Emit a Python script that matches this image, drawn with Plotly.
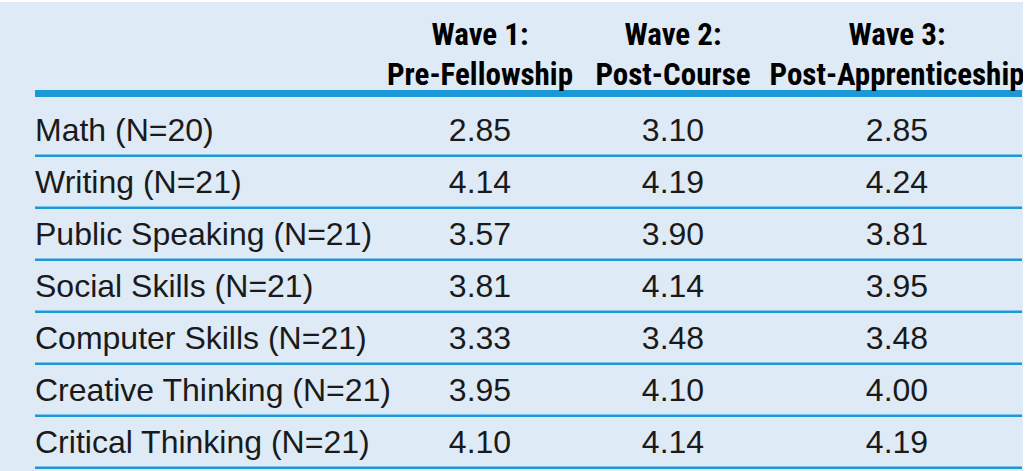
import plotly.graph_objects as go

# ---- data ----
skills = ["Math (N=20)", "Writing (N=21)", "Public Speaking (N=21)", "Social Skills (N=21)",
          "Computer Skills (N=21)", "Creative Thinking (N=21)", "Critical Thinking (N=21)"]
wave_headers = ["Wave 1:<br>Pre-Fellowship", "Wave 2:<br>Post-Course", "Wave 3:<br>Post-Apprenticeship"]
wave1 = [2.85, 4.14, 3.57, 3.81, 3.33, 3.95, 4.10]
wave2 = [3.10, 4.19, 3.90, 4.14, 3.48, 4.10, 4.14]
wave3 = [2.85, 4.24, 3.81, 3.95, 3.48, 4.00, 4.19]

# ---- layout constants (pixel-like x units, row-index y units) ----
LABEL_X = 35
COL_X = [480, 673, 897]
LINE_X = [35, 1022]
HEADER_Y = -1.45
HEADER_LINE_Y = -0.76
ROW_LINE_OFFSET = 0.437
BG = "#deeaf6"
LINE_COLOR = "#1b99d7"
TEXT_COLOR = "#1a1a1a"
BODY_FONT = "Liberation Sans, Arial, sans-serif"
HEAD_FONT = "Roboto Condensed, DejaVu Sans Condensed, Liberation Sans, sans-serif"

rows = list(range(len(skills)))
fig = go.Figure()

# horizontal rules
fig.add_trace(go.Scatter(x=LINE_X, y=[HEADER_LINE_Y] * 2, mode="lines",
                         line=dict(color=LINE_COLOR, width=7), hoverinfo="skip"))
for r in rows:
    fig.add_trace(go.Scatter(x=LINE_X, y=[r + ROW_LINE_OFFSET] * 2, mode="lines",
                             line=dict(color=LINE_COLOR, width=2.5), hoverinfo="skip"))

# row labels
fig.add_trace(go.Scatter(x=[LABEL_X] * len(skills), y=rows, mode="text", text=skills,
                         textposition="middle right",
                         textfont=dict(family=BODY_FONT, size=32, color=TEXT_COLOR),
                         hoverinfo="skip"))

# values
for cx, vals in zip(COL_X, [wave1, wave2, wave3]):
    fig.add_trace(go.Scatter(x=[cx] * len(vals), y=rows, mode="text",
                             text=[f"{v:.2f}" for v in vals],
                             textposition="middle center",
                             textfont=dict(family=BODY_FONT, size=32, color=TEXT_COLOR),
                             hoverinfo="skip"))

# headers
fig.add_trace(go.Scatter(x=COL_X, y=[HEADER_Y] * len(COL_X), mode="text", text=wave_headers,
                         textposition="middle center",
                         textfont=dict(family=HEAD_FONT, size=31, color="#000000", weight="bold"),
                         hoverinfo="skip"))

fig.update_layout(
    width=1026, height=471,
    margin=dict(l=0, r=3, t=2, b=0),
    paper_bgcolor="white", plot_bgcolor=BG,
    showlegend=False,
    xaxis=dict(range=[0, 1023], visible=False, fixedrange=True),
    yaxis=dict(range=[6.5, -2.519], visible=False, fixedrange=True),
)
fig.write_html("out.html", config={"displayModeBar": False},
               post_script="document.body.style.margin='0';")
